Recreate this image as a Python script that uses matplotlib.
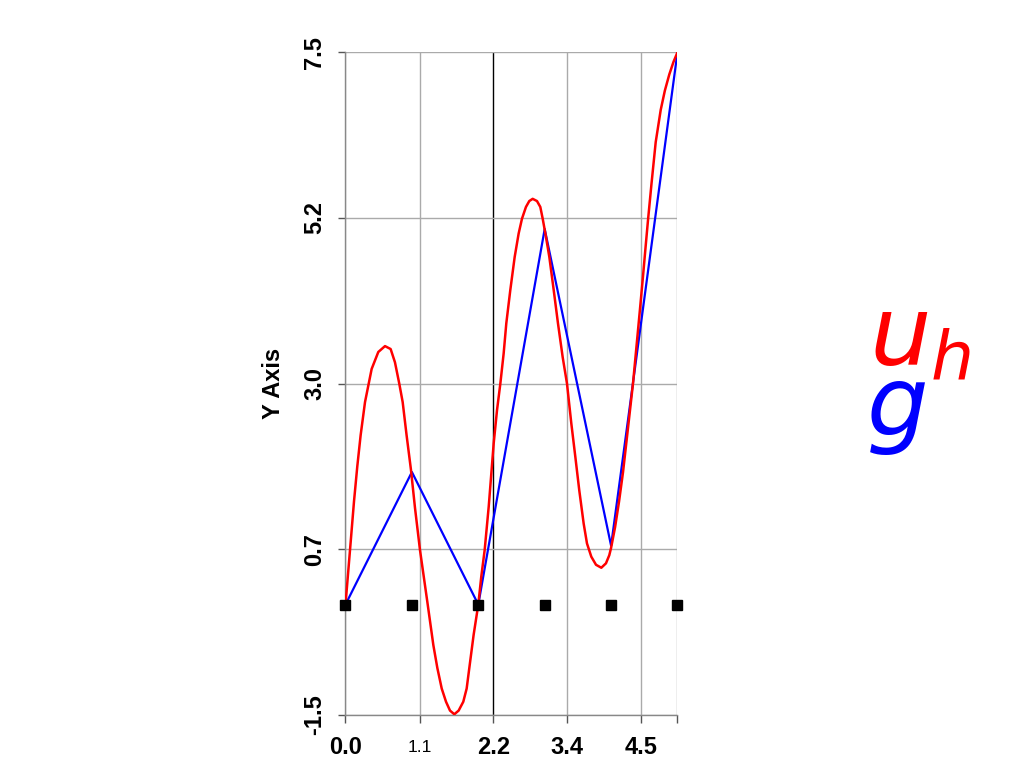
import matplotlib
matplotlib.use("Agg")
import matplotlib.pyplot as plt

# nodes of the mesh and the piecewise linear g
node_x = [0.0, 1.0, 2.0, 3.0, 4.0, 5.0]
g_vals = [0.0, 1.8, 0.0, 5.1, 0.8, 7.5]
node_marks = [0.0, 0.0, 0.0, 0.0, 0.0, 0.0]

# u_h, points
uh_x = [0.0, 0.078, 0.128, 0.178, 0.228, 0.294, 0.394, 0.494, 0.595, 0.68,
        0.745, 0.81, 0.861, 0.92, 0.986, 1.047, 1.122, 1.232, 1.323, 1.383,
        1.449, 1.514, 1.574, 1.639, 1.704, 1.774, 1.825, 1.865, 1.93, 2.0,
        2.045, 2.096, 2.157, 2.232, 2.282, 2.332, 2.382, 2.422, 2.482, 2.548,
        2.608, 2.658, 2.718, 2.768, 2.819, 2.884, 2.934, 2.970, 3.020, 3.070,
        3.136, 3.200, 3.271, 3.336, 3.401, 3.461, 3.521, 3.587, 3.637, 3.702,
        3.773, 3.853, 3.923, 3.973, 4.0, 4.06, 4.12, 4.18, 4.24, 4.29,
        4.331, 4.382, 4.434, 4.48, 4.52, 4.556, 4.607, 4.672, 4.748, 4.81,
        4.877, 4.94, 5.0]
uh_y = [0.0, 0.85, 1.40, 1.88, 2.30, 2.75, 3.20, 3.43, 3.51, 3.47,
        3.29, 3.00, 2.75, 2.30, 1.83, 1.31, 0.74, 0.04, -0.55, -0.86,
        -1.14, -1.32, -1.44, -1.49, -1.44, -1.32, -1.14, -0.86, -0.41, 0.0,
        0.38, 0.74, 1.33, 2.19, 2.64, 3.00, 3.41, 3.82, 4.27, 4.72,
        5.04, 5.24, 5.40, 5.48, 5.51, 5.48, 5.40, 5.24, 4.99, 4.72,
        4.27, 3.82, 3.36, 3.00, 2.46, 2.01, 1.55, 1.10, 0.83, 0.65,
        0.54, 0.50, 0.56, 0.67, 0.77, 1.05, 1.40, 1.80, 2.28, 2.68,
        3.01, 3.50, 4.00, 4.45, 4.86, 5.22, 5.70, 6.28, 6.72, 6.98,
        7.20, 7.37, 7.5]

x_ticks = [0.0, 1.115, 2.225, 3.34, 4.45, 5.0]
x_labels = ["0.0", "1.1", "2.2", "3.4", "4.5", ""]
y_ticks = [-1.5, 0.75, 3.0, 5.25, 7.5]
y_labels = ["-1.5", "0.7", "3.0", "5.2", "7.5"]

plt.rcParams["font.family"] = ["Liberation Sans", "DejaVu Sans"]

fig = plt.figure(figsize=(10.24, 7.68), dpi=100)
ax = fig.add_axes([0.3374, 0.069, 0.3242, 0.8629])

ax.plot(node_x, g_vals, color="#0000ff", linewidth=1.6, zorder=3)
ax.plot(uh_x, uh_y, color="#ff0000", linewidth=1.8, zorder=4,
        solid_joinstyle="round")
ax.plot(node_x, node_marks, linestyle="none", marker="s", markersize=7,
        color="black", zorder=5, clip_on=False)

ax.set_xlim(0, 5)
ax.set_ylim(-1.5, 7.5)

ax.set_xticks(x_ticks)
ax.set_xticklabels(x_labels, fontsize=17, fontweight="bold", va="center")
ax.get_xticklabels()[1].set_fontsize(12.5)
ax.get_xticklabels()[1].set_fontweight("normal")
ax.set_yticks(y_ticks)
ax.set_yticklabels(y_labels, fontsize=17, fontweight="bold", rotation=90,
                   va="center")

ax.tick_params(axis="x", length=6, width=1, color="#555555", pad=17.5)
ax.tick_params(axis="y", length=5, width=1, color="#555555", pad=9)

ax.grid(True, color="#aaaaaa", linewidth=1)
ax.get_xgridlines()[2].set_color("black")
ax.xaxis.get_major_ticks()[2].tick1line.set_color("black")
ax.set_axisbelow(True)

for side in ["top", "right"]:
    ax.spines[side].set_visible(False)
for side in ["left", "bottom"]:
    ax.spines[side].set_color("#888888")
    ax.spines[side].set_linewidth(1)

ax.set_ylabel("Y Axis", fontsize=17, fontweight="bold", labelpad=13)

# legend-like labels on the right
fig.text(869 / 1024, 1 - 365 / 768, "$u_h$", color="#ff0000", fontsize=70,
         ha="left", va="baseline")
fig.text(866 / 1024, 1 - 435 / 768, "$g$", color="#0000ff", fontsize=70,
         ha="left", va="baseline")

fig.savefig("out.png", dpi=100)
